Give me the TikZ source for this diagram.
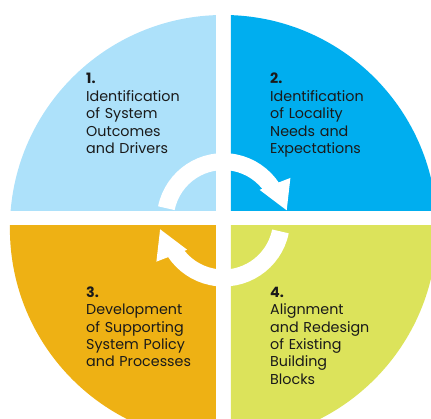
\documentclass[tikz,border=0pt]{standalone}
\usepackage{fontspec}
\setmainfont{Poppins}
\definecolor{paleblue}{HTML}{ADE1FA}
\definecolor{brightblue}{HTML}{00AEEF}
\definecolor{gold}{HTML}{EEB114}
\definecolor{lime}{HTML}{DCE35B}
\definecolor{inkgrey}{HTML}{1A1A1A}
\tikzset{
  steptext/.style={anchor=base west, inner sep=0pt, text width=150pt, align=left,
    text=inkgrey, font=\fontsize{14.3}{17.4}\selectfont},
  ringarc/.style={draw=white, line width=17pt},
}
\begin{document}
\begin{tikzpicture}[x=1pt,y=1pt]
\useasboundingbox (-223.4,-200.7) rectangle (207.6,218.3);

% four quarters of the disc, split by a white cross
\foreach \sx/\sy/\col in {-1/1/paleblue, 1/1/brightblue, -1/-1/gold, 1/-1/lime} {
  \begin{scope}
    \clip (\sx*7.4,\sy*7.6) rectangle (\sx*300,\sy*300);
    \fill[\col] (0,-10.2) circle (213.5);
  \end{scope}
}

% cycle arrows
\foreach \turn in {0,180} {
  \begin{scope}[shift={(0,-1.5)}, rotate=\turn]
    \draw[ringarc] (168.5:58.2) arc (168.5:33:58.2);
    \fill[white] (39.6:47) -- (32:79) -- (8.5:64) -- cycle;
  \end{scope}
}

\node (stepone) [steptext] at (-137.4,134.3) {\textbf{1.}\\Identification\\of System\\Outcomes\\and Drivers};
\node (steptwo) [steptext] at (46.6,134.3) {\textbf{2.}\\Identification\\of Locality\\Needs and\\Expectations};
\node (stepthree) [steptext] at (-137.4,-79) {\textbf{3.}\\Development\\of Supporting\\System Policy\\and Processes};
\node (stepfour) [steptext] at (46.6,-79) {\textbf{4.}\\Alignment\\and Redesign\\of Existing\\Building\\Blocks};
\end{tikzpicture}
\end{document}
